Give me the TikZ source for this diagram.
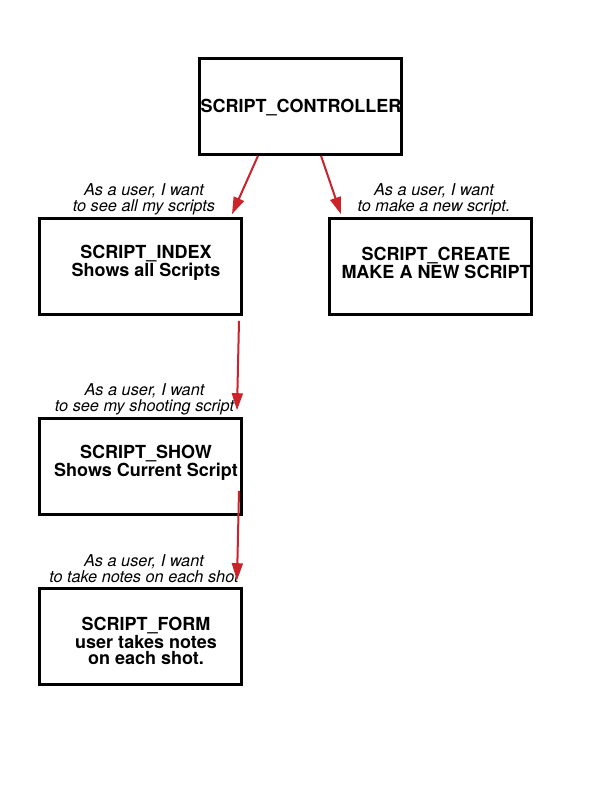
\documentclass[tikz,border=0pt]{standalone}
\usepackage{fontspec}
\setmainfont{TeX Gyre Heros}
\usepackage{xcolor}
\usepackage{tikz}
\usetikzlibrary{arrows.meta}
\definecolor{arrowred}{RGB}{204,34,41}
\begin{document}
\begin{tikzpicture}[x=1pt, y=-1pt,
  box/.style={draw, line width=2.6pt, minimum width=202pt, minimum height=96pt, inner sep=0pt},
  boxtext/.style={font=\fontsize{18}{16}\selectfont\bfseries, align=center},
  wish/.style={font=\fontsize{16.3}{16}\selectfont\itshape, align=center},
  flow/.style={draw=arrowred, line width=2pt, -{Triangle[length=17pt, width=11pt]}, arrowred}]
  \useasboundingbox (0,0) rectangle (612,792);
  % Boxes
  \node[box] (controller) at (300.5,106.5) {};
  \node[box] (index) at (140.5,266.5) {};
  \node[box] (create) at (430.5,266.5) {};
  \node[box] (show) at (140.5,466.5) {};
  \node[box] (form) at (140.5,636.5) {};
  % Box texts
  \node[boxtext] (controllertext) at (301,108) {SCRIPT\_CONTROLLER};
  \node[boxtext] (indextext) at (146,263) {SCRIPT\_INDEX\\Shows all Scripts};
  \node[boxtext] (createtext) at (436,263) {SCRIPT\_CREATE\\MAKE A NEW SCRIPT};
  \node[boxtext] (showtext) at (146,463) {SCRIPT\_SHOW\\Shows Current Script};
  \node[boxtext] (formtext) at (146,641) {SCRIPT\_FORM\\user takes notes\\on each shot.};
  % User stories
  \node[wish] (indexwish) at (144,199) {As a user, I want\\to see all my scripts};
  \node[wish] (createwish) at (434,199) {As a user, I want\\to make a new script.};
  \node[wish] (showwish) at (144.5,399) {As a user, I want\\to see my shooting script};
  \node[wish] (formwish) at (144,569) {As a user, I want\\to take notes on each shot};
  % Arrows
  \draw[flow] ([xshift=-42.5pt]controller.south) -- ([xshift=91.5pt, yshift=3pt]index.north);
  \draw[flow] ([xshift=20.5pt]controller.south) -- ([xshift=-89.5pt, yshift=3pt]create.north);
  \draw[flow] ([xshift=98.5pt, yshift=-5pt]index.south) -- ([xshift=96.5pt, yshift=7pt]show.north);
  \draw[flow] ([xshift=98.5pt, yshift=25pt]show.south) -- ([xshift=96.5pt, yshift=7pt]form.north);
\end{tikzpicture}
\end{document}
